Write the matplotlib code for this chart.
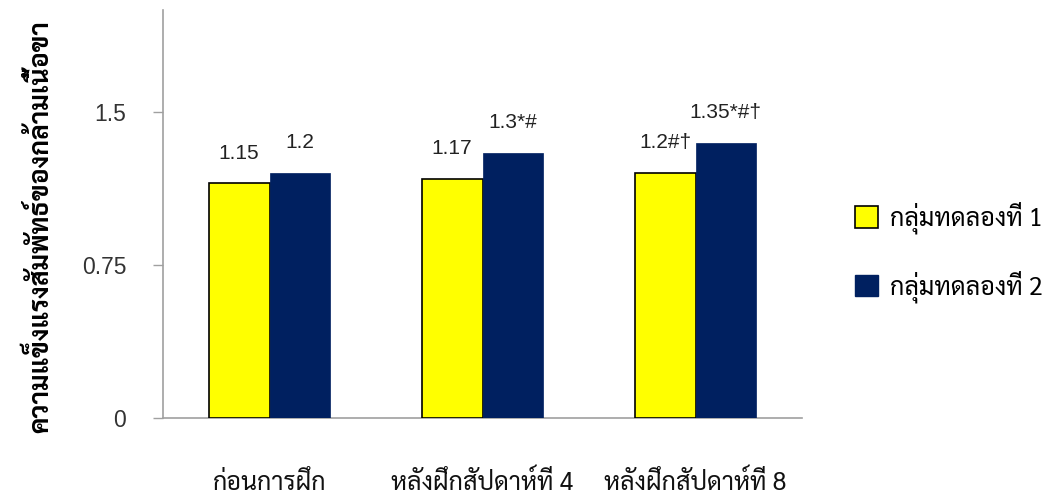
import matplotlib
matplotlib.use("Agg")
import matplotlib.pyplot as plt
import numpy as np
from matplotlib.patches import Patch

categories = ["ก่อนการฝึก", "หลังฝึกสัปดาห์ที่ 4", "หลังฝึกสัปดาห์ที่ 8"]
series_names = ["กลุ่มทดลองที่ 1", "กลุ่มทดลองที่ 2"]
group1 = [1.15, 1.17, 1.20]
group2 = [1.20, 1.30, 1.35]
labels1 = ["1.15", "1.17", "1.2#†"]
labels2 = ["1.2", "1.3*#", "1.35*#†"]
y_ticks = [0, 0.75, 1.5]
y_ticklabels = ["0", "0.75", "1.5"]
ylabel = "ความแข็งแรงสัมพัทธ์ของกล้ามเนื้อขา"

THAI = ["Sarabun", "DejaVu Sans"]
NUM = ["Liberation Sans", "DejaVu Sans"]
YELLOW = "#FFFF00"
NAVY = "#002060"
GRAY = "#A0A0A0"

fig = plt.figure(figsize=(10.54, 4.99), dpi=100)
ax = fig.add_axes([163/1054, 1 - 418/499, (802-163)/1054, (418-10)/499])

x = np.arange(len(categories))
w = 0.285
ax.bar(x - w/2, group1, w, color=YELLOW, edgecolor="black", linewidth=1.2, zorder=3)
ax.bar(x + w/2, group2, w, color=NAVY, edgecolor=NAVY, linewidth=0.5, zorder=3)

for xi, v, t in zip(x - w/2, group1, labels1):
    ax.annotate(t, (xi, v), xytext=(0, 15), textcoords="offset points",
                ha="center", va="bottom", fontsize=15, family=NUM, color="#222222")
for xi, v, t in zip(x + w/2, group2, labels2):
    ax.annotate(t, (xi, v), xytext=(0, 15), textcoords="offset points",
                ha="center", va="bottom", fontsize=15, family=NUM, color="#222222")

ax.set_xlim(-0.5, 2.5)
ax.set_ylim(0, 2.0)
ax.set_yticks(y_ticks)
ax.set_yticklabels(y_ticklabels, fontsize=16.5, family=NUM, color="#333333")
ax.set_xticks(x)
ax.set_xticklabels(categories, fontsize=18, family=THAI, color="#111111")
ax.tick_params(axis="x", length=0, pad=38)
ax.tick_params(axis="y", length=7.5, width=1, color=GRAY, pad=19, direction="out")
for s in ["top", "right"]:
    ax.spines[s].set_visible(False)
for s in ["left", "bottom"]:
    ax.spines[s].set_color(GRAY)
    ax.spines[s].set_linewidth(1.2)

fig.text(40/1054, 1 - 227/499, ylabel, rotation=90, ha="center", va="center",
         fontsize=19, fontweight="bold", family=THAI)

handles = [Patch(facecolor=YELLOW, edgecolor="black", linewidth=1.2),
           Patch(facecolor=NAVY, edgecolor=NAVY)]
leg = fig.legend(handles, series_names, loc="center left",
                 bbox_to_anchor=(832/1054, 1 - 252/499), frameon=False,
                 prop={"family": THAI, "size": 18}, handlelength=0.95, handleheight=0.95,
                 labelspacing=1.45, handletextpad=0.45)

fig.savefig("out.png")
